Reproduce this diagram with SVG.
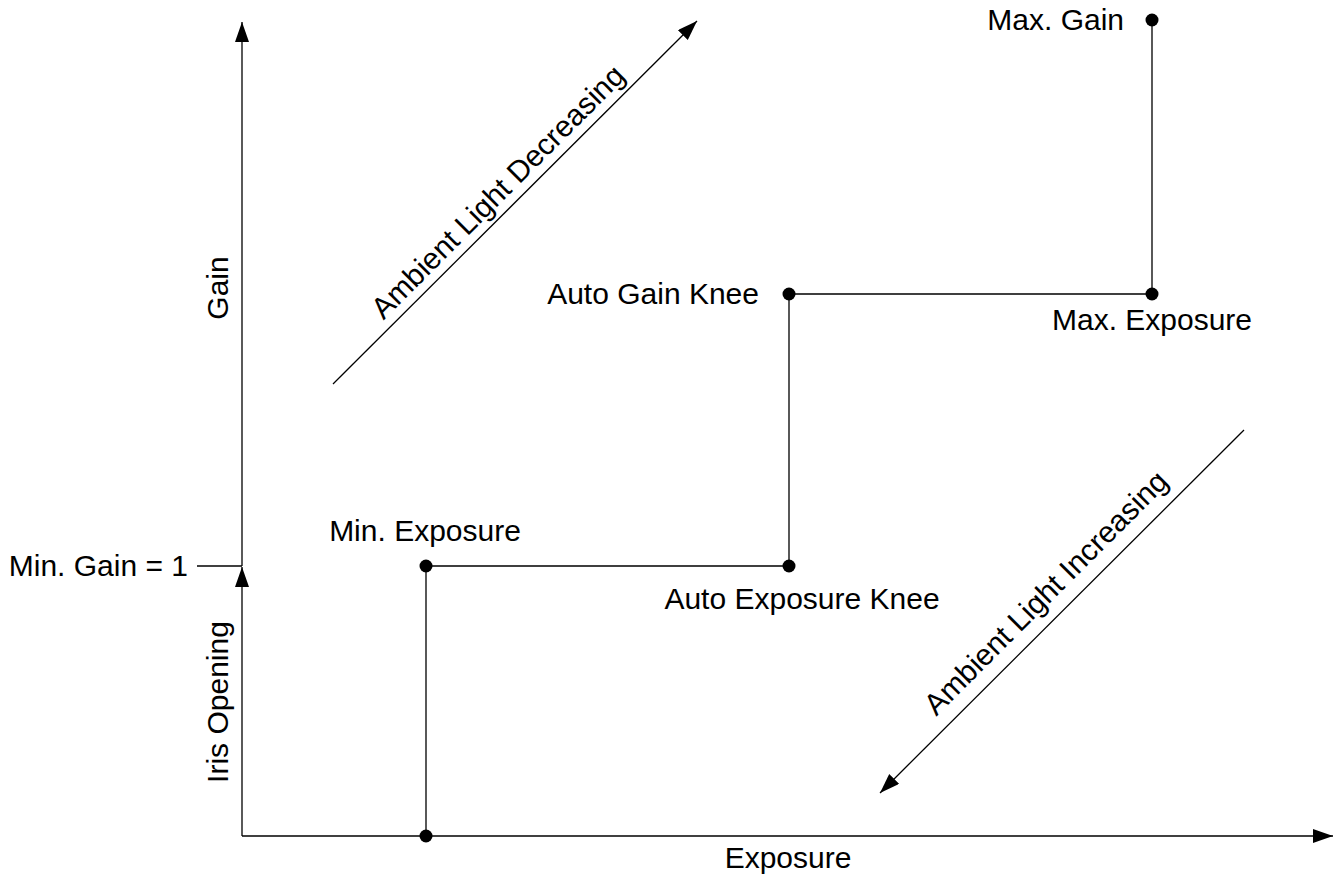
<svg xmlns="http://www.w3.org/2000/svg" width="1337" height="877" viewBox="0 0 1337 877">
<style>
text{font-family:"Liberation Sans",Arial,sans-serif;font-size:30px;fill:#000}
.ln{stroke:#000;stroke-width:1.3;fill:none}
.dot{fill:#000}
</style>
<defs>
<marker id="ah" markerUnits="userSpaceOnUse" markerWidth="22" markerHeight="16" refX="20" refY="7" orient="auto">
<path d="M0,0 L20,7 L0,14 Z" fill="#000"/>
</marker>
</defs>
<rect width="1337" height="877" fill="#fff"/>
<g id="connectors">
<line class="ln" x1="242" y1="566" x2="242" y2="22" marker-end="url(#ah)"/>
<line class="ln" x1="242" y1="836" x2="242" y2="567" marker-end="url(#ah)"/>
<line class="ln" x1="242" y1="836" x2="1333" y2="836" marker-end="url(#ah)"/>
<line class="ln" x1="197" y1="566" x2="242" y2="566"/>
<line class="ln" x1="333" y1="384" x2="697" y2="21" marker-end="url(#ah)"/>
<line class="ln" x1="1244" y1="430" x2="880" y2="793" marker-end="url(#ah)"/>
<polyline class="ln" points="426,836 426,566 789,566 789,294 1152,294 1152,20"/>
</g>
<g id="min-exposure-origin"><circle class="dot" cx="426" cy="836" r="6.5"/></g>
<g id="min-exposure"><circle class="dot" cx="426" cy="566" r="6.5"/><text x="425" y="541" text-anchor="middle">Min. Exposure</text></g>
<g id="auto-exposure-knee"><circle class="dot" cx="789" cy="566" r="6.5"/><text x="802" y="609" text-anchor="middle">Auto Exposure Knee</text></g>
<g id="auto-gain-knee"><circle class="dot" cx="789" cy="294" r="6.5"/><text x="759" y="304" text-anchor="end">Auto Gain Knee</text></g>
<g id="max-exposure"><circle class="dot" cx="1152" cy="294" r="6.5"/><text x="1152" y="330" text-anchor="middle">Max. Exposure</text></g>
<g id="max-gain"><circle class="dot" cx="1152" cy="20" r="6.5"/><text x="1124" y="30" text-anchor="end">Max. Gain</text></g>
<g id="labels">
<text x="188" y="576" text-anchor="end">Min. Gain = 1</text>
<text x="788" y="868" text-anchor="middle">Exposure</text>
<text transform="translate(228,288) rotate(-90)" text-anchor="middle">Gain</text>
<text transform="translate(228,702) rotate(-90)" text-anchor="middle">Iris Opening</text>
<text transform="translate(505,199) rotate(-45)" text-anchor="middle">Ambient Light Decreasing</text>
<text transform="translate(1053,600) rotate(-45)" text-anchor="middle">Ambient Light Increasing</text>
</g>
</svg>
